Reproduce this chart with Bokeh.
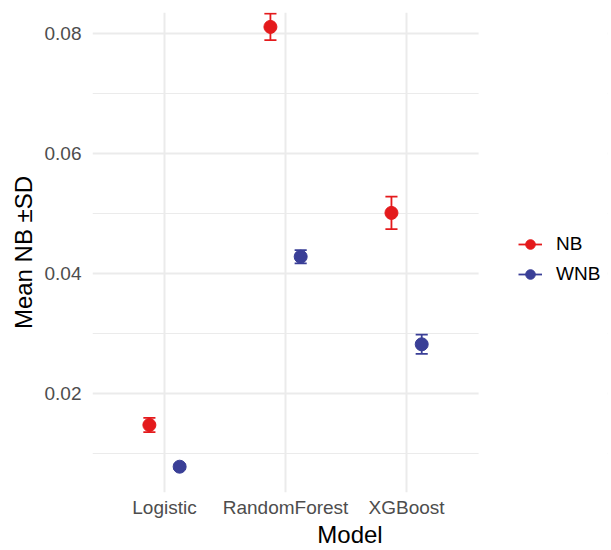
from bokeh.plotting import figure
from bokeh.models import (Range1d, FixedTicker, ColumnDataSource,
                          Legend, LegendItem, BoxAnnotation)
from bokeh.transform import dodge
from bokeh.embed import file_html
from bokeh.resources import INLINE

# ---- data ----
models = ["Logistic", "RandomForest", "XGBoost"]
series = ["NB", "WNB"]
nb_mean = [0.01475, 0.0811, 0.0501]
nb_sd = [0.0012, 0.0022, 0.0027]
wnb_mean = [0.0078, 0.0428, 0.0282]
wnb_sd = [0.0004, 0.0011, 0.0016]
y_ticks = [0.02, 0.04, 0.06, 0.08]
y_minor = [0.01, 0.03, 0.05, 0.07]

colors = ["#E41A1C", "#3A3F97"]
offsets = [-0.125, 0.125]
cap_half = 0.05
FONT = "Liberation Sans"

positions = list(range(1, len(models) + 1))
panel_end = len(models) + 0.595   # right edge of the plotting panel (legend lives beyond)

p = figure(width=611, height=550,
           x_range=Range1d(0.405, 4.66),
           y_range=Range1d(0.0035, 0.0835),
           output_backend="svg", toolbar_location=None,
           min_border_left=92, min_border_top=12, min_border_bottom=57,
           min_border_right=4)
p.outline_line_color = None
p.background_fill_color = "white"

items = []
for name, means, sds, col, off in zip(series, [nb_mean, wnb_mean], [nb_sd, wnb_sd], colors, offsets):
    src = ColumnDataSource(dict(
        pos=positions, mean=means,
        lower=[m - s for m, s in zip(means, sds)],
        upper=[m + s for m, s in zip(means, sds)],
    ))
    seg = p.segment(x0=dodge("pos", off), x1=dodge("pos", off),
                    y0="lower", y1="upper", source=src, line_color=col, line_width=1.8)
    p.segment(x0=dodge("pos", off - cap_half), x1=dodge("pos", off + cap_half),
              y0="upper", y1="upper", source=src, line_color=col, line_width=1.8)
    p.segment(x0=dodge("pos", off - cap_half), x1=dodge("pos", off + cap_half),
              y0="lower", y1="lower", source=src, line_color=col, line_width=1.8)
    sc = p.scatter(x=dodge("pos", off), y="mean", source=src,
                   size=13, fill_color=col, line_color=col)
    items.append(LegendItem(label=name, renderers=[seg, sc]))

# white cover so that grid lines stop at the panel edge (legend area)
p.add_layout(BoxAnnotation(left=panel_end, fill_color="white", fill_alpha=1,
                           line_color=None, level="underlay"))

legend = Legend(items=items, location=(426, 206), border_line_color=None,
                background_fill_alpha=0, label_text_font_size="19px",
                label_text_font=FONT, label_text_color="#000000",
                glyph_width=24, glyph_height=24, label_standoff=14,
                spacing=6, padding=0, margin=0)
p.add_layout(legend, "center")

# axes
p.xaxis.ticker = FixedTicker(ticks=positions, minor_ticks=[])
p.xaxis.major_label_overrides = {pos: m for pos, m in zip(positions, models)}
p.xgrid.ticker = p.xaxis.ticker
p.yaxis.ticker = FixedTicker(ticks=y_ticks, minor_ticks=y_minor)
p.ygrid.ticker = p.yaxis.ticker
p.xaxis.axis_label = "Model"
p.yaxis.axis_label = "Mean NB \u00b1SD"
for ax in (p.xaxis, p.yaxis):
    ax.axis_line_color = None
    ax.major_tick_line_color = None
    ax.minor_tick_line_color = None
    ax.major_tick_out = 0
    ax.major_tick_in = 0
    ax.minor_tick_out = 0
    ax.minor_tick_in = 0
    ax.major_label_text_font = FONT
    ax.major_label_text_font_size = "19px"
    ax.major_label_text_color = "#4D4D4D"
    ax.axis_label_text_font = FONT
    ax.axis_label_text_font_size = "24px"
    ax.axis_label_text_font_style = "normal"
    ax.axis_label_text_color = "#000000"
p.xaxis.major_label_standoff = 4
p.xaxis.axis_label_standoff = 0
p.yaxis.major_label_standoff = 11
p.yaxis.axis_label_standoff = 5

p.xgrid.grid_line_color = "#EBEBEB"
p.xgrid.grid_line_width = 2
p.ygrid.grid_line_color = "#EBEBEB"
p.ygrid.grid_line_width = 2
p.ygrid.minor_grid_line_color = "#EBEBEB"
p.ygrid.minor_grid_line_width = 1.2

open("out.html", "w").write(file_html(p, INLINE))
